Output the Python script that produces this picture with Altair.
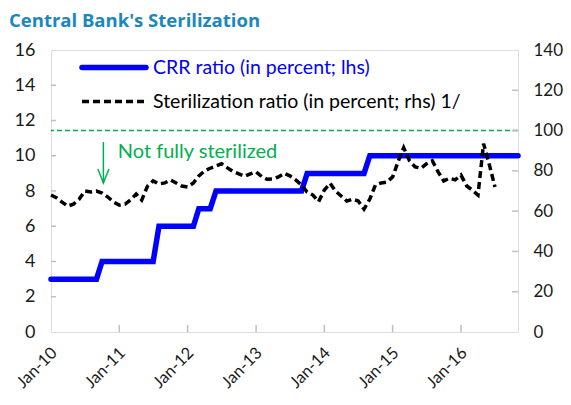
import altair as alt
import pandas as pd

# ---------------- data ----------------
title_text = "Central Bank's Sterilization"
crr_label = "CRR ratio (in percent; lhs)"
ster_label = "Sterilization ratio (in percent; rhs) 1/"
note_text = "Not fully sterilized"

# CRR ratio (lhs, percent), monthly from Jan-2010 to Nov-2016
crr_values = [
    3, 3, 3, 3, 3, 3, 3, 3, 3,
    4, 4, 4, 4, 4, 4, 4, 4, 4, 4,
    6, 6, 6, 6, 6, 6, 6,
    7, 7, 7,
    8, 8, 8, 8, 8, 8, 8, 8, 8, 8, 8, 8, 8, 8, 8, 8,
    9, 9, 9, 9, 9, 9, 9, 9, 9, 9, 9,
    10, 10, 10, 10, 10, 10, 10, 10, 10, 10, 10, 10, 10, 10, 10, 10, 10, 10,
    10, 10, 10, 10, 10, 10, 10, 10, 10,
]

# Sterilization ratio (rhs, percent), monthly from Jan-2010 to Jul-2016
ster_values = [
    68, 66.5, 64.5, 62.5, 63.5, 66, 70, 69.5, 70, 69, 67, 64.5,
    63, 63.5, 65.5, 68.5, 65.5, 72.5, 75, 73.5, 74, 75.5, 74, 72.5,
    72, 74, 77.5, 80, 81.3, 82.5, 83.5, 81.5, 79.6, 78.5, 77.3, 78.5,
    79.5, 77.1, 75.8, 76, 77, 78.8, 77.5, 75.5, 73, 69.5, 68, 64.7,
    70.5, 73.8, 70, 67.5, 65, 66, 65, 61, 66, 73, 74, 74.4,
    77, 85, 91.5, 85, 82, 81.3, 83.5, 85, 79.5, 75, 76.3, 75.5,
    77.9, 72.5, 70.5, 68, 93.5, 83, 72,
]

months = [f"{2010 + i // 12}-{i % 12 + 1:02d}-01" for i in range(len(crr_values))]

left_ticks = [0, 2, 4, 6, 8, 10, 12, 14, 16]
right_ticks = [0, 20, 40, 60, 80, 100, 120, 140]
year_ticks = [2010, 2011, 2012, 2013, 2014, 2015, 2016]

threshold = [100]
arrow_date = ["2010-10-08"]
arrow_top = [94.3]
arrow_tip = [74]
note_date = ["2010-12-24"]
note_value = [86.2]

# ---------------- build ----------------
W, H = 467, 282
FONT = "Lato"
BLUE = "#0000ff"
GREEN = "#00b050"
GRAY = "#bfbfbf"
TXT = "#1a1a1a"

crr_df = pd.DataFrame({"date": months, "crr": crr_values})
ster_df = pd.DataFrame({"date": months[: len(ster_values)], "ster": ster_values})

x_scale = alt.Scale(
    type="utc",
    nice=False,
    domain=[
        alt.DateTime(year=2010, month=1, date=1, utc=True),
        alt.DateTime(year=2016, month=11, date=1, utc=True),
    ],
)
x_axis = alt.Axis(
    values=[alt.DateTime(year=y, month=1, date=1, utc=True) for y in year_ticks],
    format="%b-%y",
    labelAngle=-45,
    labelAlign="right",
    labelBaseline="middle",
    labelPadding=18,
    labelOffset=3,
    labelFontSize=16.5,
    labelFont=FONT,
    labelColor=TXT,
    labelFlush=False,
    labelOverlap=False,
    ticks=False,
    tickSize=0,
    domain=False,
    grid=False,
    title=None,
)

yl_scale = alt.Scale(domain=[0, 16], nice=False, zero=True)
yr_scale = alt.Scale(domain=[0, 140], nice=False, zero=True)

yl_axis = alt.Axis(
    orient="left", values=left_ticks, labelPadding=16, labelFontSize=18,
    labelFont=FONT, labelColor=TXT, ticks=False, tickSize=0, domain=False,
    grid=False, title=None,
)
yr_axis = alt.Axis(
    orient="right", values=right_ticks, labelPadding=15, labelAlign="left",
    labelFontSize=17, labelFont=FONT, labelColor=TXT, ticks=False, tickSize=0,
    domain=False, grid=False, title=None,
)


def xd(field="date"):
    return alt.X(f"{field}:T", scale=x_scale, axis=x_axis)


def yl(field):
    return alt.Y(f"{field}:Q", scale=yl_scale, axis=yl_axis)


def yr(field):
    return alt.Y(f"{field}:Q", scale=yr_scale, axis=yr_axis)


crr_line = alt.Chart(crr_df).mark_line(color=BLUE, strokeWidth=5.5, strokeCap="round").encode(
    x=xd(), y=yl("crr")
)

# inward ticks (left axis, bottom axis)
lt_df = pd.DataFrame({"v": left_ticks[1:-1]})
left_tick_marks = alt.Chart(lt_df).mark_rule(color=GRAY, strokeWidth=1.5).encode(
    y=yl("v"), x=alt.value(0), x2=alt.value(5)
)
xt_df = pd.DataFrame({"date": [f"{y}-01-01" for y in year_ticks[1:]]})
x_tick_marks = alt.Chart(xt_df).mark_rule(color=GRAY, strokeWidth=1.5).encode(
    x=xd(), y=alt.value(H - 7), y2=alt.value(H)
)

# legend
leg1 = pd.DataFrame({"label": [crr_label]})
leg2 = pd.DataFrame({"label": [ster_label]})
leg_line1 = alt.Chart(leg1).mark_rule(color=BLUE, strokeWidth=5.5, strokeCap="round").encode(
    x=alt.value(31), x2=alt.value(95), y=alt.value(17.5)
)
leg_line2 = alt.Chart(leg2).mark_rule(color="black", strokeWidth=3.5, strokeDash=[7, 4]).encode(
    x=alt.value(31), x2=alt.value(95), y=alt.value(51.5)
)
leg_text1 = alt.Chart(leg1).mark_text(
    align="left", baseline="middle", font=FONT, fontSize=19.5, color=BLUE
).encode(text="label:N", x=alt.value(102), y=alt.value(18))
leg_text2 = alt.Chart(leg2).mark_text(
    align="left", baseline="middle", font=FONT, fontSize=19.5, color="black"
).encode(text="label:N", x=alt.value(102), y=alt.value(52))

left = alt.layer(crr_line, left_tick_marks, x_tick_marks, leg_line1, leg_line2, leg_text1, leg_text2)

ster_line = alt.Chart(ster_df).mark_line(
    color="black", strokeWidth=3.5, strokeDash=[7, 4]
).encode(x=xd(), y=yr("ster"))

rt_df = pd.DataFrame({"v": right_ticks[1:-1]})
right_tick_marks = alt.Chart(rt_df).mark_rule(color=GRAY, strokeWidth=1.5).encode(
    y=yr("v"), x=alt.value(W - 6), x2=alt.value(W)
)

thr = alt.Chart(pd.DataFrame({"t": threshold})).mark_rule(
    color=GREEN, strokeWidth=1.5, strokeDash=[5, 3]
).encode(y=yr("t"))

arrow_df = pd.DataFrame({"date": arrow_date, "top": arrow_top, "tip": arrow_tip})
arrow_shaft = alt.Chart(arrow_df).mark_rule(color=GREEN, strokeWidth=1.5).encode(
    x=xd(), y=yr("top"), y2=alt.Y2("tip:Q"),
)
arrow_head = alt.Chart(arrow_df).mark_point(
    shape="M -1.1 -2.8 L 0 0 L 1.1 -2.8", filled=False, color=GREEN,
    strokeWidth=1.5, size=100, opacity=1,
).encode(x=xd(), y=yr("tip"))

note_df = pd.DataFrame({"date": note_date, "v": note_value, "label": [note_text]})
note = alt.Chart(note_df).mark_text(
    align="left", baseline="alphabetic", font=FONT, fontSize=20, color=GREEN
).encode(x=xd(), y=yr("v"), text="label:N")

right = alt.layer(thr, ster_line, right_tick_marks, arrow_shaft, arrow_head, note)

chart = (
    alt.layer(left, right)
    .resolve_scale(y="independent")
    .properties(
        width=W,
        height=H,
        padding={"left": 43, "top": 42, "right": 45, "bottom": 60},
        autosize=alt.AutoSizeParams(type="none"),
        title=alt.TitleParams(
            text=title_text, anchor="start", frame="group", dx=-42, dy=18, offset=14,
            baseline="alphabetic", font="Open Sans", fontSize=18.5,
            fontWeight="bold", color="#1a87bd",
        ),
    )
    .configure_view(stroke=GRAY, strokeWidth=2)
    .configure(background="white")
)

chart.save("out.html", embed_options={"renderer": "svg", "actions": False})
